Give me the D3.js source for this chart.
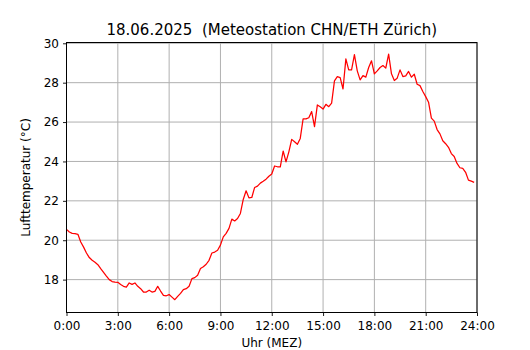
<!DOCTYPE html>
<html>
<head>
<meta charset="utf-8">
<script src="https://cdn.jsdelivr.net/npm/d3@7"></script>
<style>
body { margin: 0; background: #fff; }
svg { display: block; }
text { font-family: "DejaVu Sans", sans-serif; fill: #000; }
</style>
</head>
<body>
<script>
const title = "18.06.2025  (Meteostation CHN/ETH Zürich)";
const xLabel = "Uhr (MEZ)";
const yLabel = "Lufttemperatur (°C)";

// hours shown on the x axis
const hourTicks = [0, 3, 6, 9, 12, 15, 18, 21, 24];
const tempTicks = [18, 20, 22, 24, 26, 28, 30];

// one reading every 10 minutes, 0:00 .. 23:50
const temps = [
    20.55, 20.42, 20.35, 20.33, 20.30, 19.91, 19.65, 19.35, 19.12, 18.98, 18.88, 18.76,
    18.56, 18.37, 18.18, 18.00, 17.90, 17.87, 17.86, 17.75, 17.66, 17.62, 17.83, 17.76,
    17.83, 17.66, 17.54, 17.37, 17.37, 17.46, 17.37, 17.40, 17.66, 17.42, 17.20, 17.18,
    17.24, 17.11, 16.98, 17.15, 17.30, 17.49, 17.54, 17.66, 18.05, 18.10, 18.22, 18.56,
    18.65, 18.78, 18.98, 19.35, 19.40, 19.49, 19.75, 20.17, 20.35, 20.60, 21.07, 20.98,
    21.10, 21.36, 22.07, 22.51, 22.15, 22.17, 22.68, 22.75, 22.90, 22.99, 23.10, 23.25,
    23.36, 23.77, 23.73, 23.73, 24.53, 23.98, 24.49, 25.12, 25.00, 24.87, 25.17, 26.16,
    26.16, 26.22, 26.53, 25.77, 26.87, 26.78, 26.66, 26.90, 26.78, 26.96, 28.09, 28.31,
    28.26, 27.68, 29.21, 28.65, 28.65, 29.42, 28.60, 28.14, 28.36, 28.28, 28.77, 29.11,
    28.45, 28.60, 28.77, 28.87, 28.74, 29.45, 28.45, 28.11, 28.23, 28.65, 28.31, 28.35,
    28.57, 28.28, 28.43, 27.92, 27.85, 27.55, 27.29, 27.01, 26.20, 26.05, 25.62, 25.40,
    25.05, 24.90, 24.72, 24.40, 24.25, 23.90, 23.68, 23.65, 23.45, 23.05, 23.00, 22.94
];

const W = 530, H = 350;
const m = {top: 42.5, right: 53, bottom: 37.5, left: 66.5};

const svg = d3.select("body").append("svg")
    .attr("width", W)
    .attr("height", H);

const x = d3.scaleLinear().domain([0, 24]).range([m.left, W - m.right]);
const y = d3.scaleLinear().domain([16.33, 30.04]).range([H - m.bottom, m.top]);

// grid
svg.append("g")
    .selectAll("line.vx")
    .data(hourTicks)
    .join("line")
    .attr("x1", d => x(d)).attr("x2", d => x(d))
    .attr("y1", m.top).attr("y2", H - m.bottom)
    .attr("stroke", "#b0b0b0").attr("stroke-width", 1);

svg.append("g")
    .selectAll("line.hy")
    .data(tempTicks)
    .join("line")
    .attr("x1", m.left).attr("x2", W - m.right)
    .attr("y1", d => y(d)).attr("y2", d => y(d))
    .attr("stroke", "#b0b0b0").attr("stroke-width", 1);

// data line
const line = d3.line()
    .x((d, i) => x(i / 6))
    .y(d => y(d));

svg.append("path")
    .datum(temps)
    .attr("d", line)
    .attr("fill", "none")
    .attr("stroke", "#ff0000")
    .attr("stroke-width", 1.25)
    .attr("stroke-linejoin", "round");

// axes
const xAxis = svg.append("g")
    .attr("transform", `translate(0,${H - m.bottom})`)
    .call(d3.axisBottom(x).tickValues(hourTicks)
        .tickFormat(d => d + ":00").tickSize(3.5).tickPadding(5.5).tickSizeOuter(0));

const yAxis = svg.append("g")
    .attr("transform", `translate(${m.left},0)`)
    .call(d3.axisLeft(y).tickValues(tempTicks)
        .tickSize(3.5).tickPadding(4).tickSizeOuter(0));

[xAxis, yAxis].forEach(g => {
    g.selectAll("text").attr("font-size", 12).attr("font-family", "DejaVu Sans");
    g.selectAll("line").attr("stroke", "#000").attr("stroke-width", 0.9);
    g.select(".domain").remove();
});

// frame
svg.append("rect")
    .attr("x", m.left).attr("y", m.top)
    .attr("width", W - m.left - m.right)
    .attr("height", H - m.top - m.bottom)
    .attr("fill", "none")
    .attr("stroke", "#000")
    .attr("stroke-width", 1);

// labels
svg.append("text")
    .attr("x", (m.left + W - m.right) / 2)
    .attr("y", 34.5)
    .attr("text-anchor", "middle")
    .attr("font-size", 15)
    .style("white-space", "pre")
    .text(title);

svg.append("text")
    .attr("x", (m.left + W - m.right) / 2)
    .attr("y", 347)
    .attr("text-anchor", "middle")
    .attr("font-size", 12)
    .text(xLabel);

svg.append("text")
    .attr("transform", `translate(29.5,${(m.top + H - m.bottom) / 2}) rotate(-90)`)
    .attr("text-anchor", "middle")
    .attr("font-size", 12)
    .text(yLabel);
</script>
</body>
</html>
